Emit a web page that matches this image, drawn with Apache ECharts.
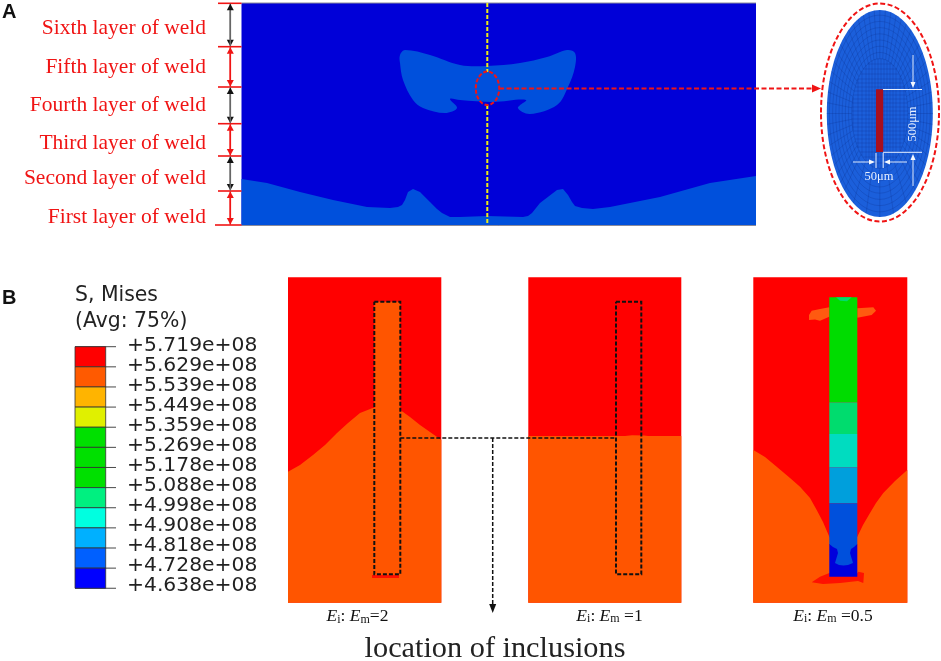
<!DOCTYPE html>
<html>
<head>
<meta charset="utf-8">
<style>html,body{margin:0;padding:0;background:#fff}#chart{width:941px;height:661px}</style>
<script src="https://cdn.jsdelivr.net/npm/echarts@6/dist/echarts.min.js"></script>
</head>
<body>
<div id="chart"></div>
<script>
// part A, weld layers
const layerLabels = ['Sixth layer of weld','Fifth layer of weld','Fourth layer of weld','Third layer of weld','Second layer of weld','First layer of weld'];
const layerLabelY = [28, 67, 105, 143, 178, 217];
const layerEdges = [3.3, 46.7, 87, 123.7, 156, 191, 225];
const plateBox = [[241.5,3],[756,3],[756,225.5],[241.5,225.5]];
const lowerBand = [[241.5,179],[267,183],[300,192],[333,200],[367,207],[390,208],[398,207],[402,205],[405,200],[408,192],[413,189],[420,192],[430,202],[437,209],[442,213],[450,217],[460,217],[487,216],[523,217],[528,216],[532,213],[536,208],[540,203],[557,190],[563,189],[568,195],[572,202],[575,206],[582,208],[593,209],[610,207],[660,197],[710,183],[756,176],[756,225.5],[241.5,225.5]];
const upperBlob = [[400,55],[405,50],[430,55],[460,65],[487,66],[520,63],[547,57],[567,50],[575,53],[575,67],[568,87],[557,105],[530,114],[518,108],[526,100],[493,102],[460,100],[450,99],[457,108],[445,113],[423,108],[413,100],[403,80],[400,63]];
const centreLine = [[487.3,3],[487.3,72]];
const centreLine2 = [[487.3,105],[487.3,225]];
const weldZoomRing = [487.5,88.3,11.7,16.7];
const zoomArrow = [[499,88.5],[821,88.5]];
// close-up ellipse and mesh
const closeUpOuter = [880,112.5,59,109];
const closeUpFill = [879.8,113.5,53,103.5];
const meshRings = [0.95,0.89,0.83,0.77,0.71,0.65,0.59,0.53];
const meshSpokes = [0,6,12,18,24,30,36,42,48,60,75,90,105,120,132,138,144,150,156,162,168,174,180,186,192,198,204,210,216,222,228,234,240,246,252,258,264,270,276,282,288,294,300,306,312,318,324,330,336,342,348,354];
const meshRows = [64,69,74,79,83,87,91,95,99,103,107,111,115,119,123,127,131,135,139,143,147,152,157,163];
const meshCols = [853,858,862,866,869,872,875,878,881,884,887,890,893,896,900,904,909];
const inclusionBar = [[876,89.3],[883.2,89.3],[883.2,152],[876,152]];
const dimLines = [[883,89.5,922,89.5],[883,152.3,922,152.3],[876,153,876,168],[883.2,153,883.2,168]];
const dimArrows = [[913,55,913,88],[913,186,913,154],[853,162,875,162],[907,162,884,162]];
// part B, legend
const legendValues = ['+5.719e+08','+5.629e+08','+5.539e+08','+5.449e+08','+5.359e+08','+5.269e+08','+5.178e+08','+5.088e+08','+4.998e+08','+4.908e+08','+4.818e+08','+4.728e+08','+4.638e+08'];
const legendColors = ['#ff0000','#ff5a00','#ffb400','#e0f000','#00e000','#00e000','#00e000','#00f080','#00ffe0','#00b0ff','#0060ff','#0000ff'];
// contour panels
const panelOne = [[288,277.3],[441.3,277.3],[441.3,602.7],[288,602.7]];
const panelOneOrange = [[288,471.7],[300,465],[313,455],[325,445],[337,433],[348,423],[360,413],[372.7,408],[374.3,408],[374.3,301.7],[400.3,301.7],[400.3,410],[410,417],[420,425],[430,432],[441.3,440],[441.3,602.7],[288,602.7]];
const panelOneRedLine = [[372,575],[399,575],[399,578],[372,578]];
const panelTwo = [[528.3,277.3],[681.3,277.3],[681.3,602.7],[528.3,602.7]];
const panelTwoOrange = [[528.3,436],[625,436],[632,435.3],[644,435.5],[648,436],[681.3,436],[681.3,602.7],[528.3,602.7]];
const panelThree = [[753.3,277.3],[907.3,277.3],[907.3,602.7],[753.3,602.7]];
const panelThreeOrange = [[753.3,450],[765,457],[776.7,466.7],[790,478],[800,486.7],[810,498],[816.7,510],[823,522],[829.3,536.7],[843,560],[857.3,536.7],[863,525],[870,513],[876,503],[883.3,493],[895,481],[907.3,470],[907.3,602.7],[753.3,602.7]];
const wingLeft = [[829.3,307.3],[820,309],[811.7,310.7],[809,315],[809,320],[815,319.5],[820,320.7],[829.3,316.7]];
const wingRight = [[857.3,308.3],[873.3,307.3],[876,310.7],[871.7,315],[857.3,317.7]];
const footRed = [[811.7,582.3],[820,576.7],[830,572.7],[856.7,574],[858.3,571.7],[864,573],[863.3,583],[858,581],[840,583],[823,584]];
const bandEdges = [297.3,402.3,434,467.3,503.3,544,576.7];
const bandColors = ['#00dc00','#00dc6e','#00dcc0','#009fdc','#0050dc','#0000dc'];
const barSides = [829.3,857.3];
const barCap = [[836,297.3],[840,300.7],[847,301.3],[851.7,297.3]];
const barCore = [[829.3,544],[833,547],[837,549],[838,553],[836.5,558],[835,563],[839,565],[843.5,565.5],[848,565],[853,563],[851.5,558],[850,553],[851,549],[854,547],[857.3,544]];
// guide lines
const rectOne = [[374.3,301.7],[400.3,301.7],[400.3,574.3],[374.3,574.3],[374.3,301.7]];
const rectTwo = [[616,301.7],[641.3,301.7],[641.3,574.3],[616,574.3],[616,301.7]];
const linkLine = [[400.3,438],[616,438]];
const locationArrow = [[492.7,438],[492.7,613]];
const ratioLabels = ['2',' =1',' =0.5'];
const ratioCentres = [[357.5,616.5],[609.5,616],[833,616]];

const serif = '"Liberation Serif","Times New Roman",serif';
const sans = '"DejaVu Sans",Verdana,sans-serif';
const meshColor = 'rgba(8,40,130,0.45)';

function custom(data, draw, z) {
  return {
    type: 'custom', coordinateSystem: 'cartesian2d', silent: true, clip: false, animation: false,
    z: z || 2, encode: {x: 0, y: 1}, data: data,
    renderItem: (params, api) => draw(params.dataIndex, api)
  };
}
function polygon(points, fill, smooth, z) {
  return custom(points, (i, api) => {
    if (i !== 0) return;
    return {type: 'polygon', shape: {points: points.map(p => api.coord(p)), smooth: smooth || 0}, style: {fill: fill}};
  }, z);
}
function line(points, color, width, dash, z) {
  return custom(points, (i, api) => {
    if (i !== 0) return;
    return {type: 'polyline', shape: {points: points.map(p => api.coord(p))},
      style: {fill: 'none', stroke: color, lineWidth: width, lineDash: dash || null}};
  }, z);
}
function arrowHead(tip, ux, uy, len, half, color) {
  return {type: 'polygon', shape: {points: [tip,
    [tip[0] - ux * len - uy * half, tip[1] - uy * len + ux * half],
    [tip[0] - ux * len + uy * half, tip[1] - uy * len - ux * half]]}, style: {fill: color}};
}
// rows are x1,y1,x2,y2
function arrows(rows, colorOf, width, len, half, dash, z, shaftOf) {
  return custom(rows, (i, api) => {
    const r = rows[i], a = api.coord([r[0], r[1]]), b = api.coord([r[2], r[3]]);
    const d = Math.hypot(b[0] - a[0], b[1] - a[1]), ux = (b[0] - a[0]) / d, uy = (b[1] - a[1]) / d;
    const color = colorOf(i);
    return {type: 'group', children: [
      {type: 'line', shape: {x1: a[0], y1: a[1], x2: b[0] - ux * len, y2: b[1] - uy * len},
        style: {stroke: shaftOf ? shaftOf(i) : color, lineWidth: width, lineDash: dash || null}},
      arrowHead(b, ux, uy, len, half, color)
    ]};
  }, z);
}
function segments(rows, color, width, z) {
  return custom(rows, (i, api) => {
    const r = rows[i], a = api.coord([r[0], r[1]]), b = api.coord([r[2], r[3]]);
    return {type: 'line', shape: {x1: a[0], y1: a[1], x2: b[0], y2: b[1]}, style: {stroke: color, lineWidth: width}};
  }, z);
}
function labels(points, texts, font, fill, align, rotation) {
  return custom(points, (i, api) => {
    const p = api.coord(points[i]);
    return {type: 'text', x: p[0], y: p[1], rotation: rotation || 0, z2: 50,
      style: {text: texts[i], font: font, fill: fill, align: align || 'left', verticalAlign: 'middle'}};
  }, 9);
}
function ellipse(box, style, z) {
  return custom([[box[0], box[1]]], (i, api) => {
    const c = api.coord([box[0], box[1]]), e = api.coord([box[0] + box[2], box[1] + box[3]]);
    return {type: 'ellipse', shape: {cx: c[0], cy: c[1], rx: e[0] - c[0], ry: e[1] - c[1]}, style: style};
  }, z);
}

// mesh of the close-up: paved rings at the rim, spokes joining them, fine grid round the inclusion
const innerScale = 0.53;
const meshSeries = [
  custom(meshRings.map(() => [closeUpFill[0], closeUpFill[1]]), (i, api) => {
    const c = api.coord([closeUpFill[0], closeUpFill[1]]);
    return {type: 'ellipse', shape: {cx: c[0], cy: c[1], rx: closeUpFill[2] * meshRings[i], ry: closeUpFill[3] * meshRings[i]},
      style: {fill: 'none', stroke: meshColor, lineWidth: 0.5}};
  }, 3),
  custom(meshSpokes.map(() => [closeUpFill[0], closeUpFill[1]]), (i, api) => {
    const c = api.coord([closeUpFill[0], closeUpFill[1]]), t = meshSpokes[i] * Math.PI / 180;
    const cs = Math.cos(t) * closeUpFill[2], sn = Math.sin(t) * closeUpFill[3];
    return {type: 'line', shape: {x1: c[0] + cs * innerScale, y1: c[1] + sn * innerScale, x2: c[0] + cs, y2: c[1] + sn},
      style: {stroke: meshColor, lineWidth: 0.5}};
  }, 3),
  custom(meshRows.map(y => [closeUpFill[0], y]), (i, api) => {
    const dy = (meshRows[i] - closeUpFill[1]) / (closeUpFill[3] * innerScale);
    const half = closeUpFill[2] * innerScale * Math.sqrt(Math.max(0, 1 - dy * dy));
    const a = api.coord([closeUpFill[0] - half, meshRows[i]]), b = api.coord([closeUpFill[0] + half, meshRows[i]]);
    return {type: 'line', shape: {x1: a[0], y1: a[1], x2: b[0], y2: b[1]}, style: {stroke: meshColor, lineWidth: 0.5}};
  }, 3),
  custom(meshCols.map(x => [x, closeUpFill[1]]), (i, api) => {
    const dx = (meshCols[i] - closeUpFill[0]) / (closeUpFill[2] * innerScale);
    const half = closeUpFill[3] * innerScale * Math.sqrt(Math.max(0, 1 - dx * dx));
    const a = api.coord([meshCols[i], closeUpFill[1] - half]), b = api.coord([meshCols[i], closeUpFill[1] + half]);
    return {type: 'line', shape: {x1: a[0], y1: a[1], x2: b[0], y2: b[1]}, style: {stroke: meshColor, lineWidth: 0.5}};
  }, 3)
];

const layerArrows = [];
for (let i = 0; i < layerEdges.length - 1; i++) {
  layerArrows.push([230.3, layerEdges[i] + 0.5, 230.3, layerEdges[i + 1] - 0.5]);
  layerArrows.push([230.3, layerEdges[i + 1] - 0.5, 230.3, layerEdges[i] + 0.5]);
}
const layerTicks = layerEdges.map((y, i) => [i === 6 ? 215 : 218, y, 241.5, y]);

const legendBoxes = legendColors.map((c, i) => [75, 346.7 + i * 20.13]);
const legendTicks = legendValues.map((v, i) => [75, 346.7 + i * 20.13, 116, 346.7 + i * 20.13]);
const legendText = legendValues.map((v, i) => [127, 345.5 + i * 20]);

const ratioFont = {
  i: {font: 'italic 17.5px ' + serif, fill: '#111'},
  s: {font: '12px ' + serif, fill: '#111', padding: [6, 0, 0, 0]},
  n: {font: '17.5px ' + serif, fill: '#111'}
};

const bands = bandColors.map((c, i) => [barSides[0], bandEdges[i]]);
const red = '#f01414';

const option = {
  animation: false,
  backgroundColor: '#ffffff',
  grid: {left: 0, right: 0, top: 0, bottom: 0},
  xAxis: {type: 'value', min: 0, max: 941, show: false},
  yAxis: {type: 'value', min: 0, max: 661, inverse: true, show: false},
  series: [
    // part A plate
    polygon(plateBox, '#0000d8', 0, 1),
    polygon(lowerBand, '#0050dc', 0, 2),
    polygon(upperBlob, '#0050dc', 0.35, 2),
    line([plateBox[0], plateBox[1]], '#8a8a9a', 1, null, 3),
    line([plateBox[3], plateBox[2]], '#8a8a9a', 1, null, 3),
    line(centreLine, '#eeee10', 2, [4, 2], 3),
    line(centreLine2, '#eeee10', 2, [4, 2], 3),
    ellipse(weldZoomRing, {fill: 'none', stroke: red, lineWidth: 2, lineDash: [4, 2]}, 4),
    arrows([zoomArrow[0].concat(zoomArrow[1])], () => red, 2, 9, 4, [5, 2.5], 4),
    segments(layerTicks, red, 1.6, 3),
    arrows(layerArrows, i => (Math.floor(i / 2) % 2 === 0 ? '#111111' : red), 1.5, 6.5, 3.5, null, 3,
      i => (Math.floor(i / 2) % 2 === 0 ? '#666666' : red)),
    labels(layerLabelY.map(y => [206, y]), layerLabels, '21.5px ' + serif, red, 'right'),
    labels([[2, 12]], ['A'], 'bold 20px "Liberation Sans",Arial,sans-serif', '#111', 'left'),

    // close-up
    ellipse(closeUpFill, {fill: '#1b5fdb'}, 2),
    ...meshSeries,
    ellipse(closeUpOuter, {fill: 'none', stroke: red, lineWidth: 2, lineDash: [5, 2.5]}, 4),
    polygon(inclusionBar, '#a80f1e', 0, 5),
    segments(dimLines, '#e8f0ff', 1, 6),
    arrows(dimArrows, () => '#f4f8ff', 0.9, 6, 2.5, null, 6),
    labels([[912.5, 124]], ['500μm'], '12.5px ' + serif, '#e8f0ff', 'center', Math.PI / 2),
    labels([[879, 177]], ['50μm'], '12.5px ' + serif, '#e8f0ff', 'center'),

    // part B legend
    labels([[2, 298]], ['B'], 'bold 20px "Liberation Sans",Arial,sans-serif', '#111', 'left'),
    labels([[75, 295.5], [75, 321.5]], ['S, Mises', '(Avg: 75%)'], '20.4px ' + sans, '#222', 'left'),
    custom(legendBoxes, (i, api) => {
      const a = api.coord(legendBoxes[i]), b = api.coord([105.7, legendBoxes[i][1] + 20.13]);
      return {type: 'rect', shape: {x: a[0], y: a[1], width: b[0] - a[0], height: b[1] - a[1]},
        style: {fill: legendColors[i], stroke: '#333', lineWidth: 0.8}};
    }, 2),
    segments(legendTicks, '#333', 0.9, 1),
    labels(legendText, legendValues, '20.3px ' + sans, '#222', 'left'),

    // contour panels
    polygon(panelOne, '#ff0000', 0, 1),
    polygon(panelOneOrange, '#ff5500', 0, 2),
    polygon(panelOneRedLine, '#ff1100', 0, 3),
    polygon(panelTwo, '#ff0000', 0, 1),
    polygon(panelTwoOrange, '#ff5500', 0, 2),
    polygon(panelThree, '#ff0000', 0, 1),
    polygon(panelThreeOrange, '#ff5500', 0, 2),
    polygon(wingLeft, '#ff5a10', 0, 3),
    polygon(wingRight, '#ff5a10', 0, 3),
    polygon(footRed, '#ff1100', 0, 3),
    custom(bands, (i, api) => {
      const a = api.coord(bands[i]), b = api.coord([barSides[1], bandEdges[i + 1]]);
      return {type: 'rect', shape: {x: a[0], y: a[1], width: b[0] - a[0], height: b[1] - a[1]}, style: {fill: bandColors[i]}};
    }, 4),
    polygon(barCap, '#00dc6e', 0, 5),
    polygon(barCore, '#0050dc', 0, 5),

    // guide lines
    line(rectOne, '#111', 2, [4, 2], 6),
    line(rectTwo, '#111', 2, [4, 2], 6),
    line(linkLine, '#111', 1.5, [4, 2], 6),
    arrows([locationArrow[0].concat(locationArrow[1])], () => '#111', 1.5, 9, 3.5, [4, 2], 6),

    // captions
    custom(ratioCentres, (i, api) => {
      const p = api.coord(ratioCentres[i]);
      return {type: 'text', x: p[0], y: p[1], z2: 50, style: {
        text: '{i|E}{s|i}{n|: }{i|E}{s|m}{n|' + (i === 0 ? '=' : '') + ratioLabels[i] + '}',
        rich: ratioFont, align: 'center', verticalAlign: 'middle'}};
    }, 9),
    labels([[495, 649]], ['location of inclusions'], '30.3px ' + serif, '#222', 'center')
  ]
};

const chart = echarts.init(document.getElementById('chart'), null, {renderer: 'canvas'});
chart.setOption(option);
</script>
</body>
</html>
